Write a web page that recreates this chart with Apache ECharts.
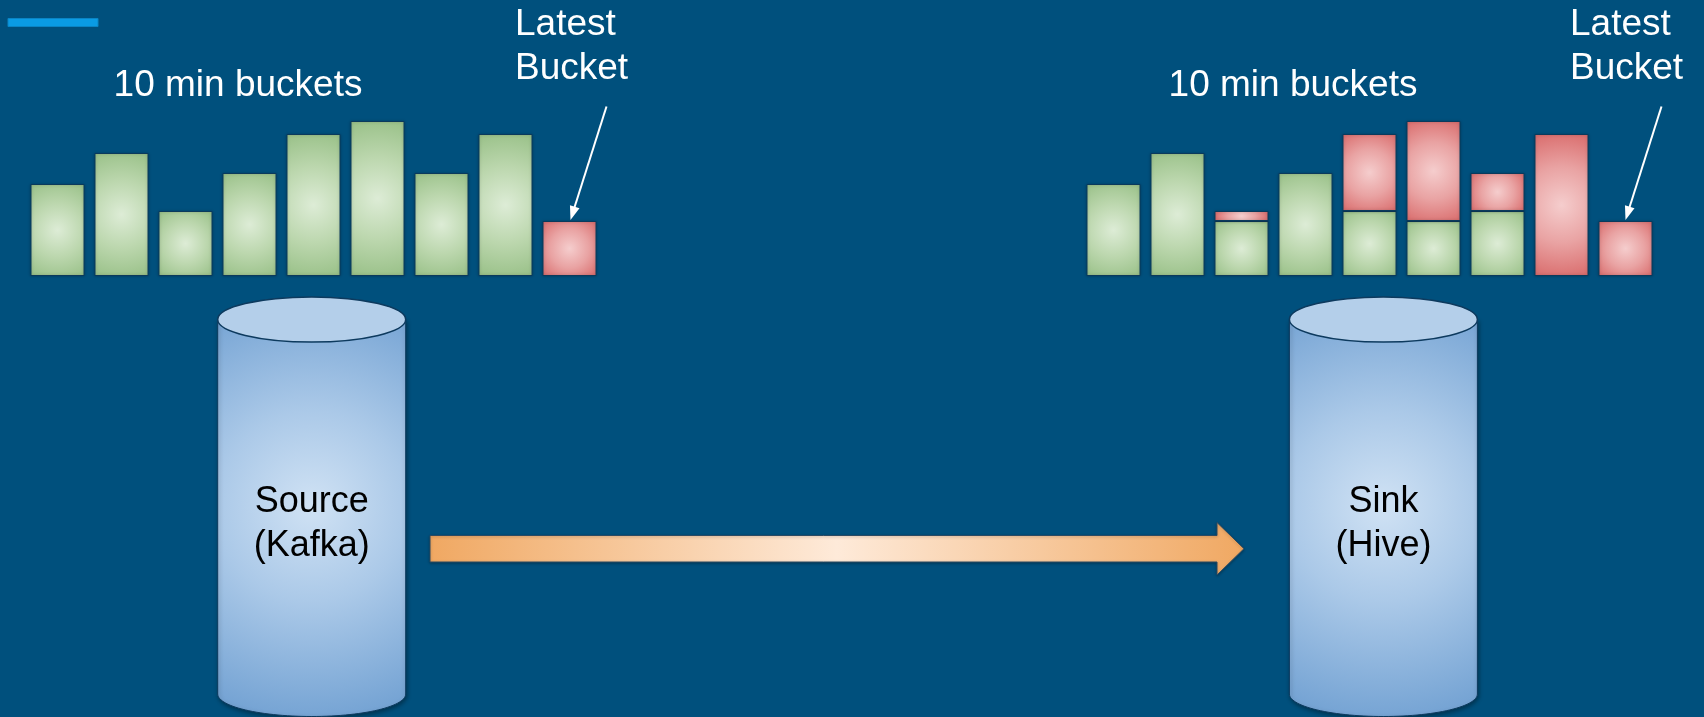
<!DOCTYPE html>
<html><head><meta charset="utf-8">
<script src="https://cdn.jsdelivr.net/npm/echarts/dist/echarts.min.js"></script>
<style>html,body{margin:0;padding:0;background:#00507d;}#c{width:1704px;height:717px;}</style>
</head><body><div id="c"></div>
<script>
// ---- data ----
const buckets = ['t-80', 't-70', 't-60', 't-50', 't-40', 't-30', 't-20', 't-10', 'latest'];
const sourceLanded = [92, 123, 65, 103, 142, 155, 103, 142, '-'];
const sourceLatest = ['-', '-', '-', '-', '-', '-', '-', '-', 55];
const sinkLanded   = [92, 123, 55, 103, 65, 55, 65, '-', '-'];
const sinkMissing  = ['-', '-', 10, '-', 77, 100, 38, 142, 55];
const bucketTitle = '10 min buckets';
const latestLabel = ['Latest', 'Bucket'];
const sourceLabel = ['Source', '(Kafka)'];
const sinkLabel = ['Sink', '(Hive)'];

// ---- style helpers ----
const FONT = '"Liberation Sans", Arial, Helvetica, sans-serif';
const BAR_W = 54;
const GREEN = [{offset:0,color:'#ddecd6'},{offset:0.5,color:'#bcd7ae'},{offset:1,color:'#98c087'}];
const RED = [{offset:0,color:'#f5cdcd'},{offset:0.5,color:'#e9a3a3'},{offset:1,color:'#d96b6b'}];
function grad(v, stops){
  if (v === '-') return v;
  const h = Math.max(v, 1);
  const hd = Math.sqrt((BAR_W/2)*(BAR_W/2) + (h/2)*(h/2));
  return {value: v, itemStyle: {color: {type:'radial', x:0.5, y:0.5, r: hd/Math.min(BAR_W, h), colorStops: stops}}};
}
const barStyle = {borderColor:'#0b3a5c', borderWidth:1, shadowColor:'rgba(0,0,0,0.25)', shadowBlur:3};
function barSeries(idx, stack, arr, stops){
  return {type:'bar', xAxisIndex:idx, yAxisIndex:idx, stack:stack, barWidth:BAR_W,
    data: arr.map(v => grad(v, stops)), itemStyle: barStyle, silent:true, animation:false};
}
const DY = 4.5;
function txt(x, y, s, size, color, align){
  return {type:'text', x:x, y:y + DY, z:10, style:{text:s, font: size+'px '+FONT, fill:color,
    align:align||'center', verticalAlign:'middle', textAlign:align||'center', textVerticalAlign:'middle'}};
}
function arrow(x1,y1,x2,y2,len,hw){
  const dx=x2-x1, dy=y2-y1, L=Math.hypot(dx,dy), ux=dx/L, uy=dy/L;
  const bx=x2-ux*len, by=y2-uy*len, px=-uy, py=ux;
  return [
    {type:'line', z:10, shape:{x1:x1,y1:y1,x2:bx+ux*2,y2:by+uy*2}, style:{stroke:'#ffffff', lineWidth:2}},
    {type:'polygon', z:10, shape:{points:[[x2,y2],[bx+px*hw,by+py*hw],[bx-px*hw,by-py*hw]]}, style:{fill:'#ffffff'}}
  ];
}
function cylinder(cx, rx, topY, botY, ry){
  const pts = [[cx-rx, topY], [cx-rx, botY]];
  for (let i = 1; i <= 60; i++) { const t = Math.PI*i/60; pts.push([cx - rx*Math.cos(t), botY + ry*Math.sin(t)]); }
  pts.push([cx+rx, topY]);
  return [
    {type:'polygon', z:2, shape:{points:pts}, style:{
      fill:{type:'radial', x:0.5, y:0.47, r:1.12, colorStops:[{offset:0,color:'#d0e2f4'},{offset:0.45,color:'#abc9e8'},{offset:1,color:'#76a4d4'}]},
      stroke:'#0d3a5e', lineWidth:1, shadowColor:'rgba(0,0,0,0.35)', shadowBlur:4, shadowOffsetX:1, shadowOffsetY:2}},
    {type:'ellipse', z:3, shape:{cx:cx, cy:topY, rx:rx, ry:ry}, style:{fill:'#b4cfea', stroke:'#0d3a5e', lineWidth:1.5}}
  ];
}

const graphics = [
  {type:'rect', z:5, shape:{x:8, y:18.5, width:90, height:8}, style:{fill:'#0a9be4', stroke:'#0a84c4', lineWidth:1}},
  txt(238, 81.5, bucketTitle, 37, '#ffffff'),
  txt(1293, 81.5, bucketTitle, 37, '#ffffff'),
  txt(515, 20, latestLabel[0], 37, '#ffffff', 'left'),
  txt(515, 64, latestLabel[1], 37, '#ffffff', 'left'),
  txt(1570, 20, latestLabel[0], 37, '#ffffff', 'left'),
  txt(1570, 64, latestLabel[1], 37, '#ffffff', 'left'),
  ...arrow(606.5, 106.5, 570.5, 220, 14, 5),
  ...arrow(1661.5, 106.5, 1625.5, 220, 14, 5),
  ...cylinder(311.7, 94, 319.5, 694, 22.5),
  ...cylinder(1383.4, 94, 319.5, 694, 22.5),
  txt(311.7, 497.5, sourceLabel[0], 36, '#000000'),
  txt(311.7, 541.5, sourceLabel[1], 36, '#000000'),
  txt(1383.4, 497.5, sinkLabel[0], 36, '#000000'),
  txt(1383.4, 541.5, sinkLabel[1], 36, '#000000'),
  {type:'polygon', z:4, shape:{points:[[430,535.5],[1217,535.5],[1217,522.5],[1244,548.7],[1217,575],[1217,562],[430,562]]},
   style:{fill:{type:'linear', x:0, y:0, x2:1, y2:0, colorStops:[{offset:0,color:'#f0a862'},{offset:0.5,color:'#feead9'},{offset:1,color:'#f0a862'}]},
   stroke:'#2b4a63', lineWidth:1, shadowColor:'rgba(0,0,0,0.3)', shadowBlur:3, shadowOffsetY:1}}
];

const chart = echarts.init(document.getElementById('c'), null, {renderer:'canvas'});
chart.setOption({
  backgroundColor:'#00507d',
  animation:false,
  grid:[
    {left:25.5, top:76, width:576, height:200},
    {left:1081.5, top:76, width:576, height:200}
  ],
  xAxis:[
    {type:'category', gridIndex:0, data:buckets, show:false},
    {type:'category', gridIndex:1, data:buckets, show:false}
  ],
  yAxis:[
    {type:'value', gridIndex:0, min:0, max:200, show:false, splitLine:{show:false}},
    {type:'value', gridIndex:1, min:0, max:200, show:false, splitLine:{show:false}}
  ],
  series:[
    barSeries(0, 'src', sourceLanded, GREEN),
    barSeries(0, 'src', sourceLatest, RED),
    barSeries(1, 'sink', sinkLanded, GREEN),
    barSeries(1, 'sink', sinkMissing, RED)
  ],
  graphic:{elements: graphics}
});
</script></body></html>
